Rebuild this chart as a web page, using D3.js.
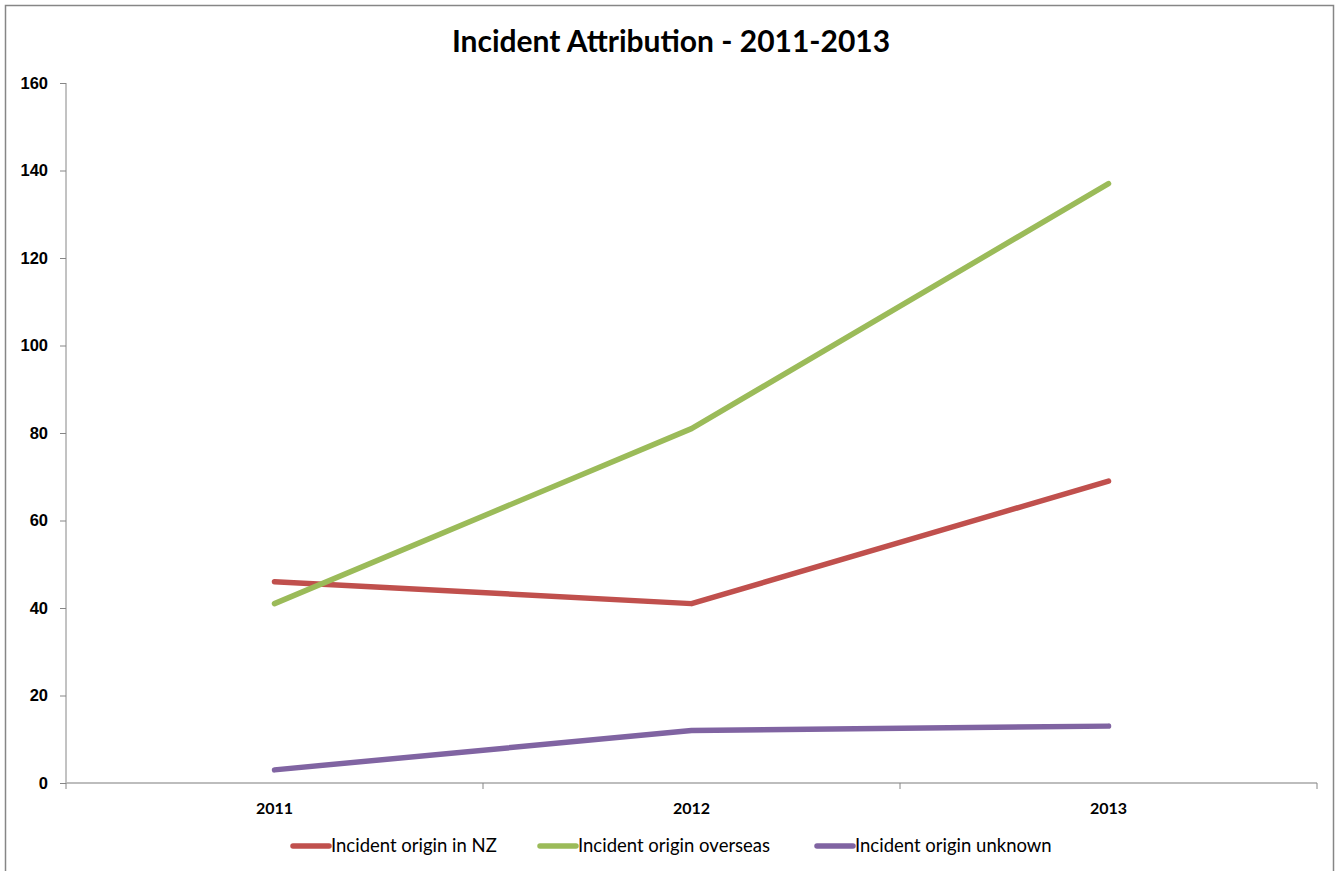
<!DOCTYPE html>
<html lang="en">
<head>
<meta charset="UTF-8">
<title>Incident Attribution - 2011-2013</title>
<script src="https://d3js.org/d3.v7.min.js"></script>
<style>
    body { margin: 0; background: #fff; }
    svg { display: block; font-family: Lato, "Open Sans", sans-serif; }
</style>
</head>
<body>
<svg id="chart"></svg>
<script>
// chart data
var years = ["2011", "2012", "2013"];
var originNZ = [46, 41, 69];
var originOverseas = [41, 81, 137];
var originUnknown = [3, 12, 13];
var yTicks = [0, 20, 40, 60, 80, 100, 120, 140, 160];
var seriesNames = ["Incident origin in NZ", "Incident origin overseas", "Incident origin unknown"];
var seriesColors = ["#C0504D", "#9BBB59", "#8064A2"];

var series = [originNZ, originOverseas, originUnknown].map(function(vals, i) {
    return { name: seriesNames[i], color: seriesColors[i], values: vals };
});

var W = 1341, H = 871;
var margin = { top: 83, right: 24, bottom: 88, left: 66 };
var width = W - margin.left - margin.right,
    height = H - margin.top - margin.bottom;

var svg = d3.select("#chart").attr("width", W).attr("height", H);

// outer chart frame
svg.append("rect")
    .attr("x", 5.5).attr("y", 5.5)
    .attr("width", 1328).attr("height", 880)
    .attr("fill", "none").attr("stroke", "#868686").attr("stroke-width", 1.5);

svg.append("text")
    .attr("x", 671).attr("y", 52)
    .attr("text-anchor", "middle")
    .style("font-size", "30px").style("font-weight", "bold")
    .text("Incident Attribution - 2011-2013");

var g = svg.append("g").attr("transform", "translate(" + margin.left + "," + margin.top + ")");

var x = d3.scaleBand().domain(years).range([0, width]);
var y = d3.scaleLinear().domain([0, 160]).range([height, 0]);

// y axis
var yAxis = g.append("g")
    .call(d3.axisLeft(y).tickValues(yTicks).tickSize(6).tickPadding(12));
yAxis.select(".domain").attr("stroke", "#868686").attr("d", "M0," + height + "V0");
yAxis.selectAll(".tick line").attr("stroke", "#868686");
yAxis.selectAll(".tick text")
    .style("font-size", "16.5px").style("font-weight", "bold").attr("fill", "#000");

// x axis: ticks on category boundaries
var xAxis = g.append("g").attr("transform", "translate(0," + height + ")");
xAxis.append("line")
    .attr("x1", 0).attr("x2", width)
    .attr("stroke", "#BDBDBD").attr("stroke-width", 2);
xAxis.selectAll(".bound")
    .data(years.concat(["end"]))
    .enter().append("line")
    .attr("x1", function(d, i) { return i < years.length ? x(d) : width; })
    .attr("x2", function(d, i) { return i < years.length ? x(d) : width; })
    .attr("y1", 0).attr("y2", 6)
    .attr("stroke", "#868686");
xAxis.selectAll(".lbl")
    .data(years)
    .enter().append("text")
    .attr("x", function(d) { return x(d) + x.bandwidth() / 2; })
    .attr("y", 31)
    .attr("text-anchor", "middle")
    .style("font-size", "16px").style("font-weight", "bold")
    .text(function(d) { return d; });

// lines
var line = d3.line()
    .x(function(d, i) { return x(years[i]) + x.bandwidth() / 2; })
    .y(function(d) { return y(d); });

g.selectAll(".series")
    .data(series)
    .enter().append("path")
    .attr("d", function(d) { return line(d.values); })
    .attr("fill", "none")
    .attr("stroke", function(d) { return d.color; })
    .attr("stroke-width", 5.5)
    .attr("stroke-linecap", "round")
    .attr("stroke-linejoin", "round");

// legend
var legendX = [293, 540, 817];
var legend = svg.append("g");
series.forEach(function(s, i) {
    legend.append("line")
        .attr("x1", legendX[i]).attr("x2", legendX[i] + 36)
        .attr("y1", 846).attr("y2", 846)
        .attr("stroke", s.color).attr("stroke-width", 5.5)
        .attr("stroke-linecap", "round");
    legend.append("text")
        .attr("x", legendX[i] + 38).attr("y", 852)
        .style("font-size", "18.5px")
        .text(s.name);
});
</script>
</body>
</html>
